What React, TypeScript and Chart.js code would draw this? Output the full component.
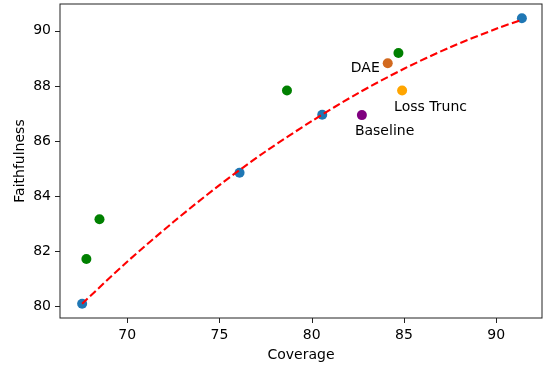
import React, { useEffect, useRef } from "react";
import { Chart, registerables } from "chart.js";

Chart.register(...registerables);

// Fitted models (blue)
const fitX = [67.56, 76.09, 80.57, 91.39];
const fitY = [80.1, 84.85, 86.95, 90.45];
// Other models (green)
const otherX = [67.79, 68.5, 78.66, 84.7];
const otherY = [81.72, 83.16, 87.83, 89.19];
// Named methods
const methodNames = ["DAE", "Loss Trunc", "Baseline"];
const methodX = [84.12, 84.9, 82.72];
const methodY = [88.82, 87.83, 86.94];
const methodColors = ["#d2691e", "#ffa500", "#800080"];
// Dashed trend curve
const curveX = [67.56, 70, 72.5, 75, 77.5, 80, 82.5, 85, 87.5, 90, 91.39];
const curveY = [80.1, 81.62, 83.06, 84.4, 85.62, 86.72, 87.73, 88.62, 89.4, 90.07, 90.4];
// Axes
const xTicks = [70, 75, 80, 85, 90];
const yTicks = [80, 82, 84, 86, 88, 90];
const xRange = [66.36, 92.48];
const yRange = [79.58, 90.97];

const FONT = "DejaVu Sans";

// label placement: [dx, dy(baseline), align]
const labelPlacement: [number, number, CanvasTextAlign][] = [
  [-8, 9, "right"],
  [-8, 20, "left"],
  [-7, 20, "left"],
];

const zeroPad = (s: any) => {
  s.paddingTop = 0;
  s.paddingBottom = 0;
  s.paddingLeft = 0;
  s.paddingRight = 0;
};

const framePlugin = {
  id: "frame",
  afterDatasetsDraw(chart: any) {
    const { ctx } = chart;
    const xs = chart.scales.x;
    const ys = chart.scales.y;
    ctx.save();
    ctx.font = `14px "${FONT}"`;
    ctx.fillStyle = "#000";
    ctx.textBaseline = "alphabetic";
    methodNames.forEach((n, i) => {
      const [dx, dy, al] = labelPlacement[i];
      ctx.textAlign = al;
      ctx.fillText(n, xs.getPixelForValue(methodX[i]) + dx, ys.getPixelForValue(methodY[i]) + dy);
    });
    ctx.restore();
  },
  afterDraw(chart: any) {
    const { ctx, chartArea } = chart;
    const xs = chart.scales.x;
    const ys = chart.scales.y;
    ctx.save();
    ctx.strokeStyle = "#222";
    ctx.lineWidth = 1;
    ctx.strokeRect(chartArea.left, chartArea.top, chartArea.right - chartArea.left, chartArea.bottom - chartArea.top);
    ctx.beginPath();
    xTicks.forEach((v) => {
      const p = Math.round(xs.getPixelForValue(v)) + 0.5;
      ctx.moveTo(p, chartArea.bottom);
      ctx.lineTo(p, chartArea.bottom + 5);
    });
    yTicks.forEach((v) => {
      const p = Math.round(ys.getPixelForValue(v)) + 0.5;
      ctx.moveTo(chartArea.left, p);
      ctx.lineTo(chartArea.left - 5, p);
    });
    ctx.stroke();
    ctx.restore();
  },
};

export default function App() {
  const ref = useRef<HTMLCanvasElement | null>(null);
  useEffect(() => {
    if (!ref.current) return;
    const toPts = (xs: number[], ys: number[]) => xs.map((x, i) => ({ x, y: ys[i] }));
    const chart = new Chart(ref.current, {
      type: "scatter",
      data: {
        datasets: [
          {
            type: "line",
            data: toPts(curveX, curveY),
            borderColor: "#ff0000",
            borderWidth: 2.1,
            borderDash: [7.7, 3.3],
            pointRadius: 0,
            fill: false,
            tension: 0.3,
            order: 0,
          } as any,
          {
            data: toPts(fitX, fitY),
            backgroundColor: "#1f77b4",
            borderWidth: 0,
            pointRadius: 5,
            order: 1,
          },
          {
            data: toPts(otherX, otherY),
            backgroundColor: "#008000",
            borderWidth: 0,
            pointRadius: 5,
            order: 1,
          },
          {
            data: toPts(methodX, methodY),
            backgroundColor: methodColors,
            borderWidth: 0,
            pointRadius: 5,
            order: 1,
          },
        ],
      },
      options: {
        animation: false,
        responsive: false,
        events: [],
        layout: { autoPadding: false, padding: { top: 4, right: 1, left: 0, bottom: 0 } },
        plugins: { legend: { display: false }, tooltip: { enabled: false } },
        scales: {
          x: {
            type: "linear",
            min: xRange[0],
            max: xRange[1],
            grid: { display: false, drawTicks: false, tickLength: 0 },
            border: { display: false },
            afterBuildTicks: (s: any) => {
              s.ticks = xTicks.map((v) => ({ value: v }));
            },
            afterFit: (s: any) => {
              s.height = 48;
              zeroPad(s);
            },
            ticks: {
              color: "#000",
              font: { family: FONT, size: 14 },
              padding: 9,
              maxRotation: 0,
              autoSkip: false,
              callback: (v: any) => String(v),
            },
            title: {
              display: true,
              text: "Coverage",
              color: "#000",
              font: { family: FONT, size: 14 },
              padding: { top: 0, bottom: 2 },
            },
          },
          y: {
            type: "linear",
            min: yRange[0],
            max: yRange[1],
            grid: { display: false, drawTicks: false, tickLength: 0 },
            border: { display: false },
            afterBuildTicks: (s: any) => {
              s.ticks = yTicks.map((v) => ({ value: v }));
            },
            afterFit: (s: any) => {
              s.width = 60;
              zeroPad(s);
            },
            ticks: {
              color: "#000",
              font: { family: FONT, size: 14 },
              padding: 9,
              autoSkip: false,
              callback: (v: any) => String(v),
            },
            title: {
              display: true,
              text: "Faithfulness",
              color: "#000",
              font: { family: FONT, size: 14 },
              padding: { top: 12, bottom: 0 },
            },
          },
        },
      },
      plugins: [framePlugin],
    });
    return () => chart.destroy();
  }, []);
  return (
    <div style={{ position: "absolute", left: 0, top: 0, width: 543, height: 366, background: "#fff" }}>
      <canvas ref={ref} width={543} height={366} style={{ width: 543, height: 366, display: "block" }} />
    </div>
  );
}
